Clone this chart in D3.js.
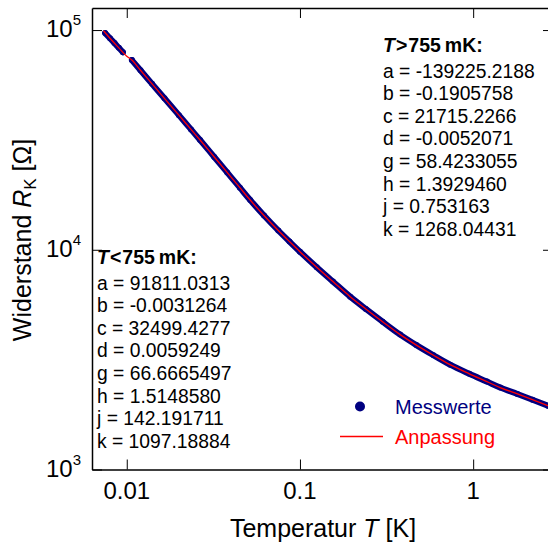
<!DOCTYPE html>
<html>
<head>
<meta charset="utf-8">
<script src="https://cdn.jsdelivr.net/npm/d3@7"></script>
<style>
  body { margin: 0; background: #fff; }
  svg { display: block; font-family: "Liberation Sans", Arial, sans-serif; }
</style>
</head>
<body>
<svg id="chart" width="548" height="549"></svg>
<script>
// measured data (null = gap in the measurement)
var messT = [0.0075, 0.0080, 0.0085, 0.0090, 0.0095, null,
             0.0107, 0.0120, 0.0140, 0.0165, 0.0200, 0.0235, 0.0265, 0.0320, 0.0380, 0.0450,
             0.0516, 0.0620, 0.0750, 0.0870, 0.1000, 0.125, 0.155, 0.195, 0.240, 0.300,
             0.379, 0.470, 0.590, 0.736, 0.95, 1.20, 1.432, 1.80, 2.20, 2.70];
var messR = [96900, 91800, 87200, 83000, 79200, null,
             73000, 65600, 56900, 48900, 41000, 35300, 31600, 26450, 22490, 19170,
             16840, 14330, 12240, 10900, 9800, 8330, 7170, 6120, 5380, 4707,
             4110, 3683, 3311, 3000, 2726, 2512, 2360, 2207, 2078, 1950];

// fit curve
var fitT = [0.00734, 0.0080, 0.0090, 0.0100, 0.0107, 0.0120, 0.0140, 0.0165, 0.0200, 0.0235,
            0.0265, 0.0320, 0.0380, 0.0450, 0.0516, 0.0620, 0.0750, 0.0870, 0.1000, 0.125,
            0.155, 0.195, 0.240, 0.300, 0.379, 0.470, 0.590, 0.736, 0.95, 1.20, 1.432,
            1.80, 2.20, 2.70, 2.90];
var fitR = [99300, 91800, 83000, 76000, 73000, 65600, 56900, 48900, 41000, 35300,
            31600, 26450, 22490, 19170, 16840, 14330, 12240, 10900, 9800, 8330,
            7170, 6120, 5380, 4707, 4110, 3683, 3311, 3000, 2726, 2512, 2360,
            2207, 2078, 1950, 1900];

var xTicks = [0.01, 0.1, 1];
var xTickLabels = ["0.01", "0.1", "1"];
var yTicks = [1e3, 1e4, 1e5];
var yTickExp = ["3", "4", "5"];

var paramNames = ["a", "b", "c", "d", "g", "h", "j", "k"];
var paramsHigh = ["-139225.2188", "-0.1905758", "21715.2266", "-0.0052071",
                  "58.4233055", "1.3929460", "0.753163", "1268.04431"];
var paramsLow = ["91811.0313", "-0.0031264", "32499.4277", "0.0059249",
                 "66.6665497", "1.5148580", "142.191711", "1097.18884"];

var svg = d3.select("#chart");
var pLeft = 92, pRight = 553, pTop = 8, pBottom = 469.5;

var x = d3.scaleLog().domain([0.0063, 2.89]).range([pLeft, pRight]);
var y = d3.scaleLog().domain([1000, 126000]).range([pBottom, pTop]);

svg.append("clipPath").attr("id", "clip")
  .append("rect").attr("x", pLeft).attr("y", pTop)
  .attr("width", pRight - pLeft).attr("height", pBottom - pTop);

// data
var pts = messT.map(function(t, i) { return {t: t, r: messR[i]}; });
var plot = svg.append("g").attr("clip-path", "url(#clip)");

plot.append("path")
  .datum(pts)
  .attr("fill", "none")
  .attr("stroke", "#000080")
  .attr("stroke-width", 6)
  .attr("stroke-linecap", "round")
  .attr("d", d3.line()
    .defined(function(d) { return d.t != null; })
    .curve(d3.curveMonotoneX)
    .x(function(d) { return x(d.t); })
    .y(function(d) { return y(d.r); }));

plot.selectAll("circle.mess")
  .data(pts.filter(function(d) { return d.t != null; }))
  .enter().append("circle")
  .attr("class", "mess")
  .attr("cx", function(d) { return x(d.t); })
  .attr("cy", function(d) { return y(d.r); })
  .attr("r", 3)
  .attr("fill", "#000080");

var fitPts = fitT.map(function(t, i) { return {t: t, r: fitR[i]}; });
plot.append("path")
  .datum(fitPts)
  .attr("fill", "none")
  .attr("stroke", "#ff0000")
  .attr("stroke-width", 1.3)
  .attr("d", d3.line()
    .curve(d3.curveMonotoneX)
    .x(function(d) { return x(d.t); })
    .y(function(d) { return y(d.r); }));

// axes (inward ticks)
function styleAxis(g) {
  g.selectAll("text").remove();
  g.select(".domain").attr("stroke-width", 1.5);
  g.selectAll(".tick line").attr("stroke-width", 1);
}
svg.append("g").attr("transform", "translate(0," + pBottom + ")")
  .call(d3.axisBottom(x).tickValues(xTicks).tickSizeInner(-10).tickSizeOuter(0)).call(styleAxis);
svg.append("g").attr("transform", "translate(0," + pTop + ")")
  .call(d3.axisTop(x).tickValues(xTicks).tickSizeInner(-10).tickSizeOuter(0)).call(styleAxis);
svg.append("g").attr("transform", "translate(" + pLeft + ",0)")
  .call(d3.axisLeft(y).tickValues(yTicks).tickSizeInner(-10).tickSizeOuter(0)).call(styleAxis);
svg.append("g").attr("transform", "translate(" + pRight + ",0)")
  .call(d3.axisRight(y).tickValues(yTicks).tickSizeInner(-10).tickSizeOuter(0)).call(styleAxis);

// tick labels
svg.selectAll("text.xt")
  .data(xTicks)
  .enter().append("text")
  .attr("class", "xt")
  .attr("x", function(d) { return x(d); })
  .attr("y", 499)
  .attr("text-anchor", "middle")
  .attr("font-size", 24)
  .text(function(d, i) { return xTickLabels[i]; });

var yt = svg.selectAll("text.yt")
  .data(yTicks)
  .enter().append("text")
  .attr("class", "yt")
  .attr("x", 81)
  .attr("y", function(d) { return y(d) + 7; })
  .attr("text-anchor", "end")
  .attr("font-size", 24);
yt.append("tspan").text("10");
yt.append("tspan").attr("dy", -12).attr("font-size", 15)
  .text(function(d, i) { return yTickExp[i]; });

// axis titles
var xt = svg.append("text")
  .attr("x", 323).attr("y", 537)
  .attr("text-anchor", "middle")
  .attr("font-size", 25);
xt.append("tspan").text("Temperatur ");
xt.append("tspan").attr("font-style", "italic").text("T");
xt.append("tspan").text(" [K]");

var ytl = svg.append("text")
  .attr("transform", "translate(31,240) rotate(-90)")
  .attr("text-anchor", "middle")
  .attr("font-size", 25);
ytl.append("tspan").text("Widerstand ");
ytl.append("tspan").attr("font-style", "italic").text("R");
ytl.append("tspan").attr("font-size", 17).attr("dy", 5).text("K");
ytl.append("tspan").attr("dy", -5).text(" [\u03A9]");

// parameter boxes
function paramBlock(x0, y0, sign, values) {
  var t = svg.append("text").attr("x", x0).attr("y", y0)
    .attr("font-size", 19.5).attr("font-weight", "bold");
  t.append("tspan").attr("font-style", "italic").text("T");
  t.append("tspan").attr("dx", 1).text(sign);
  t.append("tspan").attr("dx", 1).text("755");
  t.append("tspan").attr("dx", 4).text("mK:");
  svg.selectAll(null)
    .data(values)
    .enter().append("text")
    .attr("x", x0)
    .attr("y", function(d, i) { return y0 + 25.5 + i * 22.6; })
    .attr("font-size", 19.3)
    .attr("fill", "#000")
    .text(function(d, i) { return paramNames[i] + " = " + d; });
}
paramBlock(383, 52, ">", paramsHigh);
paramBlock(97, 264, "<", paramsLow);

// legend
svg.append("circle").attr("cx", 360).attr("cy", 406.5).attr("r", 5).attr("fill", "#000080");
svg.append("text").attr("x", 395).attr("y", 414).attr("font-size", 20)
  .attr("fill", "#000080").text("Messwerte");
svg.append("line").attr("x1", 340).attr("x2", 383).attr("y1", 436.5).attr("y2", 436.5)
  .attr("stroke", "#ff0000").attr("stroke-width", 1.3);
svg.append("text").attr("x", 395).attr("y", 444).attr("font-size", 20)
  .attr("fill", "#ff0000").text("Anpassung");
</script>
</body>
</html>
